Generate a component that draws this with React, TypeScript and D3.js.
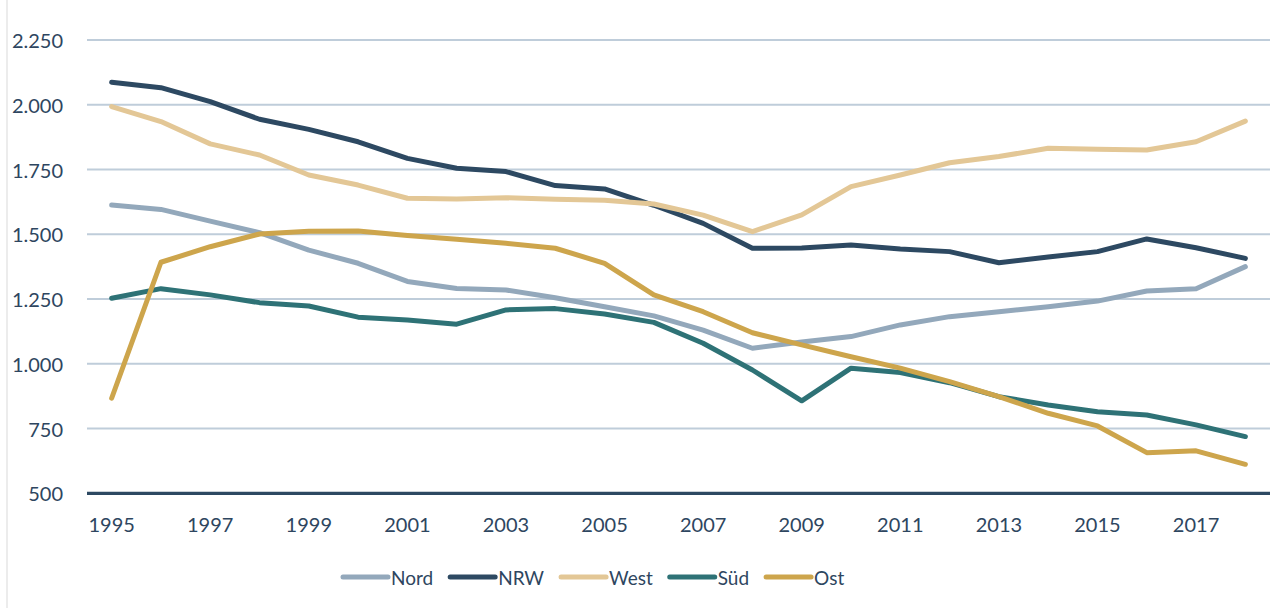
import React, { useEffect, useRef } from "react";
import * as d3 from "d3";

const years = [1995,1996,1997,1998,1999,2000,2001,2002,2003,2004,2005,2006,2007,2008,2009,2010,2011,2012,2013,2014,2015,2016,2017,2018];
const nord = [1613,1596,1551,1506,1439,1388,1318,1291,1285,1255,1220,1185,1130,1060,1084,1105,1150,1182,1201,1220,1242,1281,1290,1375];
const nrw = [2087,2066,2012,1944,1905,1857,1793,1755,1742,1688,1675,1612,1542,1446,1447,1459,1443,1433,1390,1412,1433,1482,1448,1407];
const west = [1993,1935,1849,1806,1729,1690,1639,1636,1641,1635,1631,1617,1574,1510,1575,1684,1729,1776,1800,1832,1828,1825,1857,1937];
const sued = [1253,1290,1266,1236,1223,1180,1169,1153,1208,1213,1192,1160,1079,976,857,983,966,927,873,841,815,802,764,719];
const ost = [867,1392,1452,1501,1512,1513,1495,1481,1465,1446,1388,1266,1201,1120,1073,1027,983,931,873,809,760,657,664,612];
const yTicks = [500,750,1000,1250,1500,1750,2000,2250];
const xLabelYears = [1995,1997,1999,2001,2003,2005,2007,2009,2011,2013,2015,2017];

const seriesNames = ["Nord","NRW","West","Süd","Ost"];
const seriesColors = ["#93A8BB","#2D4962","#E3C796","#2E7276","#CDA54C"];
const seriesValues = [nord, nrw, west, sued, ost];

const W = 1282, H = 608;
const TEXT = "#2E4660";
const FONT = "Lato, 'Open Sans', sans-serif";

export default function App() {
  const ref = useRef<SVGSVGElement>(null);
  useEffect(() => {
    const svg = d3.select(ref.current);
    svg.selectAll("*").remove();
    const x = d3.scaleBand<number>().domain(years).range([87, 1270]);
    const y = d3.scaleLinear().domain([500, 2250]).range([493.3, 40]);
    const cx = (yr: number) => (x(yr) as number) + x.bandwidth() / 2;

    svg.append("line").attr("x1", 7).attr("x2", 7).attr("y1", 0).attr("y2", H)
      .attr("stroke", "#D9D9D9").attr("stroke-width", 1);

    // gridlines
    svg.append("g").selectAll("line").data(yTicks.filter(t => t > 500)).join("line")
      .attr("x1", 87).attr("x2", 1270)
      .attr("y1", d => y(d)).attr("y2", d => y(d))
      .attr("stroke", "#BFCDDA").attr("stroke-width", 2);

    // y labels
    const fmt = (v: number) => d3.format(",")(v).replace(/,/g, ".");
    svg.append("g").selectAll("text").data(yTicks).join("text")
      .attr("x", 63).attr("y", d => y(d))
      .attr("text-anchor", "end").attr("dominant-baseline", "central")
      .attr("font-family", FONT).attr("font-size", 20).attr("fill", TEXT)
      .text(d => fmt(d));

    // x labels
    svg.append("g").selectAll("text").data(xLabelYears).join("text")
      .attr("x", d => cx(d)).attr("y", 532)
      .attr("text-anchor", "middle")
      .attr("font-family", FONT).attr("font-size", 20).attr("fill", TEXT)
      .text(d => String(d));

    // lines
    const line = d3.line<number>().x((_, i) => cx(years[i])).y(d => y(d));
    seriesValues.forEach((vals, i) => {
      svg.append("path").attr("d", line(vals) as string)
        .attr("fill", "none").attr("stroke", seriesColors[i])
        .attr("stroke-width", 5).attr("stroke-linecap", "round").attr("stroke-linejoin", "round");
    });

    // axis line
    svg.append("line").attr("x1", 87).attr("x2", 1270).attr("y1", y(500)).attr("y2", y(500))
      .attr("stroke", "#2D4962").attr("stroke-width", 3.2);

    // legend
    const lg = svg.append("g");
    let lx = 343;
    const ly = 577;
    seriesNames.forEach((name, i) => {
      lg.append("line").attr("x1", lx).attr("x2", lx + 45).attr("y1", ly).attr("y2", ly)
        .attr("stroke", seriesColors[i]).attr("stroke-width", 5).attr("stroke-linecap", "round");
      const t = lg.append("text").attr("x", lx + 48).attr("y", ly).attr("dominant-baseline", "central")
        .attr("font-family", FONT).attr("font-size", 19).attr("fill", TEXT).text(name);
      const w = (t.node() as SVGTextElement).getComputedTextLength();
      lx = lx + 48 + w + 17;
    });
  }, []);
  return (
    <svg ref={ref} width={W} height={H} style={{ position: "absolute", left: 0, top: 0, background: "#fff" }} />
  );
}
